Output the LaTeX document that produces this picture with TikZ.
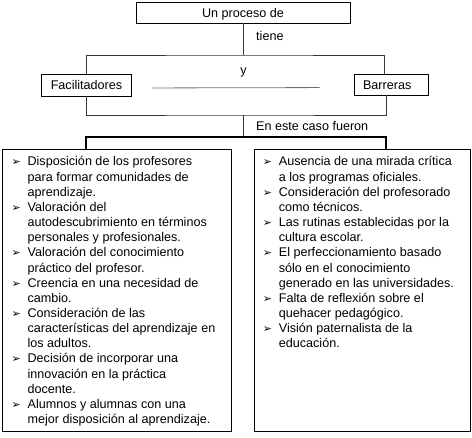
\documentclass[tikz,border=0pt]{standalone}
\usepackage{fontspec}
\setmainfont{Liberation Sans}
\newfontfamily\bulletfont{DejaVu Sans}
\usetikzlibrary{positioning}
\definecolor{linegray}{RGB}{55, 55, 55}
\definecolor{midgray}{RGB}{110, 110, 110}
\newcommand{\boxfont}{\fontsize{12.6}{15.15}\selectfont}
\newcommand{\entry}[1]{\par\hangindent=24.5pt\hangafter=0\noindent
  \llap{\makebox[16pt][l]{\bulletfont\fontsize{11}{11}\selectfont ➢}}\strut#1}

\begin{document}
\begin{tikzpicture}[
  x=1pt, y=-1pt,
  box/.style={draw=black, line width=0.7pt, inner sep=0pt, font=\boxfont,
              text height=9.4pt, text depth=0pt},
  lbl/.style={font=\boxfont, inner sep=0pt},
  listbox/.style={draw=black, line width=0.7pt, inner sep=0pt, font=\boxfont,
                  anchor=north west, minimum height=282pt},
  conn/.style={linegray, line width=0.8pt},
  bracket/.style={black, line width=1.3pt}
]
  \useasboundingbox (0,0) rectangle (472,438);
  \node[box, minimum width=214pt, minimum height=21pt] (proc) at (243,12.5) {Un proceso de};
  \node[box, minimum width=90pt, minimum height=22pt] (fac) at (86.5,85) {Facilitadores};
  \node[box, minimum height=21pt, inner xsep=9pt, text width=56pt, align=left] (bar) at (391,84.5) {Barreras};

  \coordinate (j1) at (243,55);
  \coordinate (j2) at (243,115);
  \coordinate (j3) at (243,137);
  \draw[conn] (proc.south) -- (j1);
  \draw[conn] (fac.north) |- (j1) -| ([xshift=-7pt]bar.north);
  \draw[conn] (fac.south) |- (j2) -| ([xshift=-5pt]bar.south);
  \draw[conn] (j2) -- (j3);
  \draw[midgray, line width=0.8pt, shorten <=20pt, shorten >=34pt]
    ([yshift=-3pt]fac.east) -- ([yshift=-3pt]bar.west);

  \node[lbl, anchor=base west] (tiene) at (256,40.7) {tiene};
  \node[lbl, anchor=base] (y) at (243.5,75) {y};
  \node[lbl, anchor=base west] (caso) at (256,130.7) {En este caso fueron};

  % facilitadores
  \node[listbox, minimum width=228.5pt] (pro) at (2.5,149) {%
    \begin{minipage}[c][270pt][t]{228pt}\raggedright
    \entry{Disposición de los profesores\newline para formar comunidades de\newline aprendizaje.}
    \entry{Valoración del\newline autodescubrimiento en términos\newline personales y profesionales.}
    \entry{Valoración del conocimiento\newline práctico del profesor.}
    \entry{Creencia en una necesidad de\newline cambio.}
    \entry{Consideración de las\newline características del aprendizaje en\newline los adultos.}
    \entry{Decisión de incorporar una\newline innovación en la práctica\newline docente.}
    \entry{Alumnos y alumnas con una\newline mejor disposición al aprendizaje.}
    \end{minipage}};
  % barreras
  \node[listbox, minimum width=216pt] (contra) at (254,149) {%
    \begin{minipage}[c][270pt][t]{216pt}\raggedright
    \entry{Ausencia de una mirada crítica\newline a los programas oficiales.}
    \entry{Consideración del profesorado\newline como técnicos.}
    \entry{Las rutinas establecidas por la\newline cultura escolar.}
    \entry{El perfeccionamiento basado\newline sólo en el conocimiento\newline generado en las universidades.}
    \entry{Falta de reflexión sobre el\newline quehacer pedagógico.}
    \entry{Visión paternalista de la\newline educación.}
    \end{minipage}};
  \draw[bracket] ([xshift=83.5pt]pro.north west) |- (j3) -| ([xshift=132pt]contra.north west);
\end{tikzpicture}
\end{document}
